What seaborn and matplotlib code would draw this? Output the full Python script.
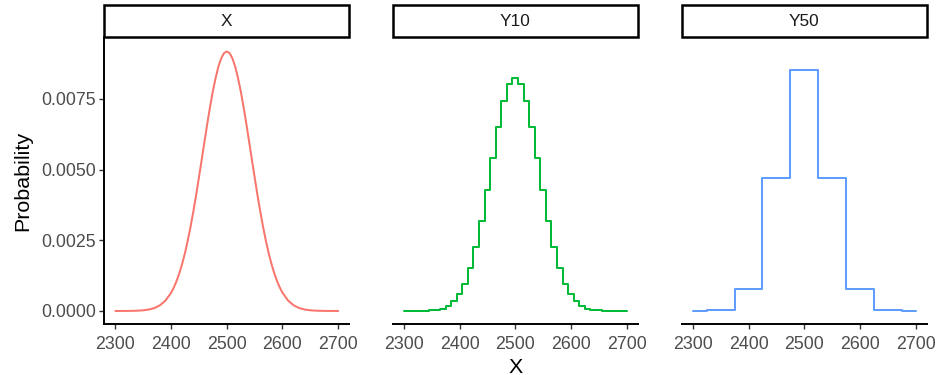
import numpy as np
import pandas as pd
import matplotlib
matplotlib.use("Agg")
import matplotlib.pyplot as plt
from matplotlib.patches import Rectangle
import seaborn as sns

# ---- data ----
panels = ["X", "Y10", "Y50"]
colors = ["#F8766D", "#00BA38", "#619CFF"]

x_x = [2300, 2310, 2320, 2330, 2340, 2350, 2360, 2370, 2380, 2390, 2400, 2405, 2410, 2415,
       2420, 2425, 2430, 2435, 2440, 2445, 2450, 2455, 2460, 2465, 2470, 2475, 2480, 2485,
       2490, 2495, 2500, 2505, 2510, 2515, 2520, 2525, 2530, 2535, 2540, 2545, 2550, 2555,
       2560, 2565, 2570, 2575, 2580, 2585, 2590, 2595, 2600, 2610, 2620, 2630, 2640, 2650,
       2660, 2670, 2680, 2690, 2700]
x_prob = [0.0000002, 0.0000006, 0.0000017, 0.0000043, 0.0000103, 0.0000234, 0.0000505,
          0.000103, 0.000201, 0.000370, 0.000645, 0.000837, 0.00107, 0.00135,
          0.00168, 0.00206, 0.00250, 0.00299, 0.00353, 0.00411, 0.00473, 0.00536,
          0.00600, 0.00663, 0.00723, 0.00778, 0.00825, 0.00865, 0.00894, 0.00912,
          0.00918,
          0.00912, 0.00894, 0.00865, 0.00825, 0.00778, 0.00723, 0.00663, 0.00600,
          0.00536, 0.00473, 0.00411, 0.00353, 0.00299, 0.00250, 0.00206, 0.00168,
          0.00135, 0.00107, 0.000837, 0.000645, 0.000370, 0.000201, 0.000103,
          0.0000505, 0.0000234, 0.0000103, 0.0000043, 0.0000017, 0.0000006, 0.0000002]

y10_x = list(range(2300, 2701, 10))
y10_prob = [0.0, 0.000001, 0.000002, 0.000004, 0.00001, 0.00002, 0.00004, 0.00008,
            0.00018, 0.00034, 0.00059, 0.00096, 0.00151, 0.00225, 0.00318, 0.00427,
            0.00542, 0.00651, 0.00744, 0.00804, 0.00824,
            0.00804, 0.00744, 0.00651, 0.00542, 0.00427, 0.00318, 0.00225, 0.00151,
            0.00096, 0.00059, 0.00034, 0.00018, 0.00008, 0.00004, 0.00002, 0.00001,
            0.000004, 0.000002, 0.000001, 0.0]

y50_x = [2300, 2350, 2400, 2450, 2500, 2550, 2600, 2650, 2700]
y50_prob = [0.000005, 0.00005, 0.00077, 0.00469, 0.00854, 0.00469, 0.00077, 0.00005, 0.000005]

x_ticks = [2300, 2400, 2500, 2600, 2700]
y_ticks = [0.0, 0.0025, 0.0050, 0.0075]
y_ticklabels = ["0.0000", "0.0025", "0.0050", "0.0075"]

df = pd.concat([
    pd.DataFrame({"panel": "X", "x": x_x, "prob": x_prob}),
    pd.DataFrame({"panel": "Y10", "x": y10_x, "prob": y10_prob}),
    pd.DataFrame({"panel": "Y50", "x": y50_x, "prob": y50_prob}),
])

sns.set_theme(style="white")
plt.rcParams["font.family"] = ["Liberation Sans", "DejaVu Sans"]

W, H = 938, 375
fig = plt.figure(figsize=(W / 100, H / 100), dpi=100)

lefts = [104.3, 392.7, 681.7]
pw = 245.0
top_px, bot_px = 37.3, 324.0
ph = bot_px - top_px
strip_h = 32.0

for i, (name, col) in enumerate(zip(panels, colors)):
    ax = fig.add_axes([lefts[i] / W, (H - bot_px) / H, pw / W, ph / H])
    sub = df[df["panel"] == name]
    ds = "default" if name == "X" else "steps-mid"
    sns.lineplot(data=sub, x="x", y="prob", ax=ax, color=col, linewidth=1.45,
                 drawstyle=ds, estimator=None, sort=True)
    ax.set_xlim(2280, 2720)
    ax.set_ylim(-0.000461, 0.009681)
    ax.set_xticks(x_ticks)
    ax.set_xticklabels([str(t) for t in x_ticks])
    for s in ["top", "right"]:
        ax.spines[s].set_visible(False)
    ax.spines["bottom"].set_linewidth(1.4)
    ax.spines["bottom"].set_color("black")
    ax.tick_params(axis="x", length=3.6, width=1.0, color="#333333",
                   labelsize=12.8, labelcolor="#4D4D4D", pad=5.0, direction="out",
                   bottom=True)
    if i == 0:
        ax.spines["left"].set_linewidth(1.4)
        ax.spines["left"].set_color("black")
        ax.set_yticks(y_ticks)
        ax.set_yticklabels(y_ticklabels)
        ax.tick_params(axis="y", length=3.6, width=1.0, color="#333333",
                       labelsize=12.8, labelcolor="#4D4D4D", pad=2.5, direction="out",
                       left=True)
        ax.set_ylabel("Probability", fontsize=15.4, color="black", labelpad=6)
    else:
        ax.spines["left"].set_visible(False)
        ax.set_yticks([])
        ax.set_ylabel("")
    if i == 1:
        ax.set_xlabel("X", fontsize=15.4, color="black", labelpad=3.5)
    else:
        ax.set_xlabel("")
    ax.grid(False)
    # strip
    sh = strip_h / ph
    rect = Rectangle((0, 1.0), 1.0, sh, transform=ax.transAxes, clip_on=False,
                     facecolor="white", edgecolor="black", linewidth=1.8)
    ax.add_patch(rect)
    ax.text(0.5, 1.0 + sh / 2, name, transform=ax.transAxes, ha="center", va="center",
            fontsize=12.4, color="#1A1A1A")

fig.savefig("out.png", dpi=100)
